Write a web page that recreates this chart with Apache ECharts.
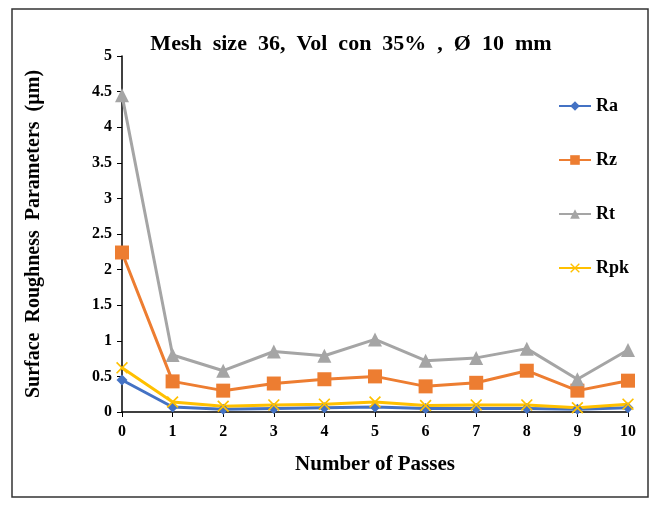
<!DOCTYPE html>
<html>
<head>
<meta charset="utf-8">
<script src="https://cdn.jsdelivr.net/npm/echarts@6/dist/echarts.min.js"></script>
<style>
  html, body { margin: 0; padding: 0; background: #fff; }
  #chart { width: 655px; height: 508px; }
</style>
</head>
<body>
<div id="chart"></div>
<script>
var passes = ['0', '1', '2', '3', '4', '5', '6', '7', '8', '9', '10'];
var ra  = [0.45, 0.07, 0.04, 0.05, 0.06, 0.07, 0.05, 0.05, 0.05, 0.04, 0.06];
var rz  = [2.24, 0.43, 0.30, 0.40, 0.46, 0.50, 0.36, 0.41, 0.58, 0.30, 0.44];
var rt  = [4.45, 0.80, 0.58, 0.85, 0.79, 1.02, 0.72, 0.76, 0.89, 0.46, 0.87];
var rpk = [0.62, 0.14, 0.08, 0.10, 0.11, 0.14, 0.09, 0.10, 0.10, 0.06, 0.11];

var font = 'Liberation Serif';
var crossPath = 'path://M0,1 L1,0 L5,4 L9,0 L10,1 L6,5 L10,9 L9,10 L5,6 L1,10 L0,9 L4,5 Z';

function makeSeries(name, data, color, symbol, size) {
  return {
    name: name,
    type: 'line',
    data: data,
    symbol: symbol,
    symbolSize: size,
    lineStyle: { color: color, width: 3 },
    itemStyle: { color: color },
    z: 2
  };
}

var chartDom = document.getElementById('chart');
var myChart = echarts.init(chartDom);
var option = {
  animation: false,
  title: {
    text: 'Mesh  size  36,  Vol  con  35%  ,  Ø  10  mm',
    left: 346,
    textAlign: 'center',
    top: 28,
    textStyle: { fontFamily: font, fontWeight: 'bold', fontSize: 22, color: '#000' }
  },
  graphic: [{
    type: 'rect',
    shape: { x: 12, y: 9, width: 636, height: 488 },
    style: { fill: 'none', stroke: '#333', lineWidth: 1.5 },
    silent: true
  }],
  legend: {
    orient: 'vertical',
    left: 553,
    top: 92,
    itemGap: 36,
    itemWidth: 32,
    itemHeight: 12,
    itemStyle: {},
    textStyle: { fontFamily: font, fontWeight: 'bold', fontSize: 18, color: '#000' },
    data: ['Ra', 'Rz', 'Rt', 'Rpk']
  },
  grid: { left: 122, right: 27, top: 56, bottom: 96 },
  xAxis: {
    type: 'category',
    data: passes,
    boundaryGap: false,
    name: 'Number of Passes',
    nameLocation: 'middle',
    nameGap: 42,
    nameTextStyle: { fontFamily: font, fontWeight: 'bold', fontSize: 21, color: '#000' },
    axisLine: { lineStyle: { color: '#000', width: 1.5 } },
    axisTick: { alignWithLabel: true, length: 5, lineStyle: { color: '#000' } },
    axisLabel: { fontFamily: font, fontWeight: 'bold', fontSize: 16, color: '#000', margin: 12 }
  },
  yAxis: {
    type: 'value',
    min: 0,
    max: 5,
    interval: 0.5,
    name: 'Surface  Roughness  Parameters  (µm)',
    nameLocation: 'middle',
    nameGap: 78,
    nameTextStyle: { fontFamily: font, fontWeight: 'bold', fontSize: 20, color: '#000' },
    axisLine: { show: true, lineStyle: { color: '#000', width: 1.5 } },
    axisTick: { show: true, length: 5, lineStyle: { color: '#000' } },
    splitLine: { show: false },
    axisLabel: { fontFamily: font, fontWeight: 'bold', fontSize: 16, color: '#000', margin: 10 }
  },
  series: [
    makeSeries('Ra', ra, '#4472C4', 'diamond', 11),
    makeSeries('Rz', rz, '#ED7D31', 'rect', 14),
    makeSeries('Rt', rt, '#A5A5A5', 'triangle', 14),
    makeSeries('Rpk', rpk, '#FFC000', crossPath, 12)
  ]
};
option && myChart.setOption(option);
</script>
</body>
</html>
